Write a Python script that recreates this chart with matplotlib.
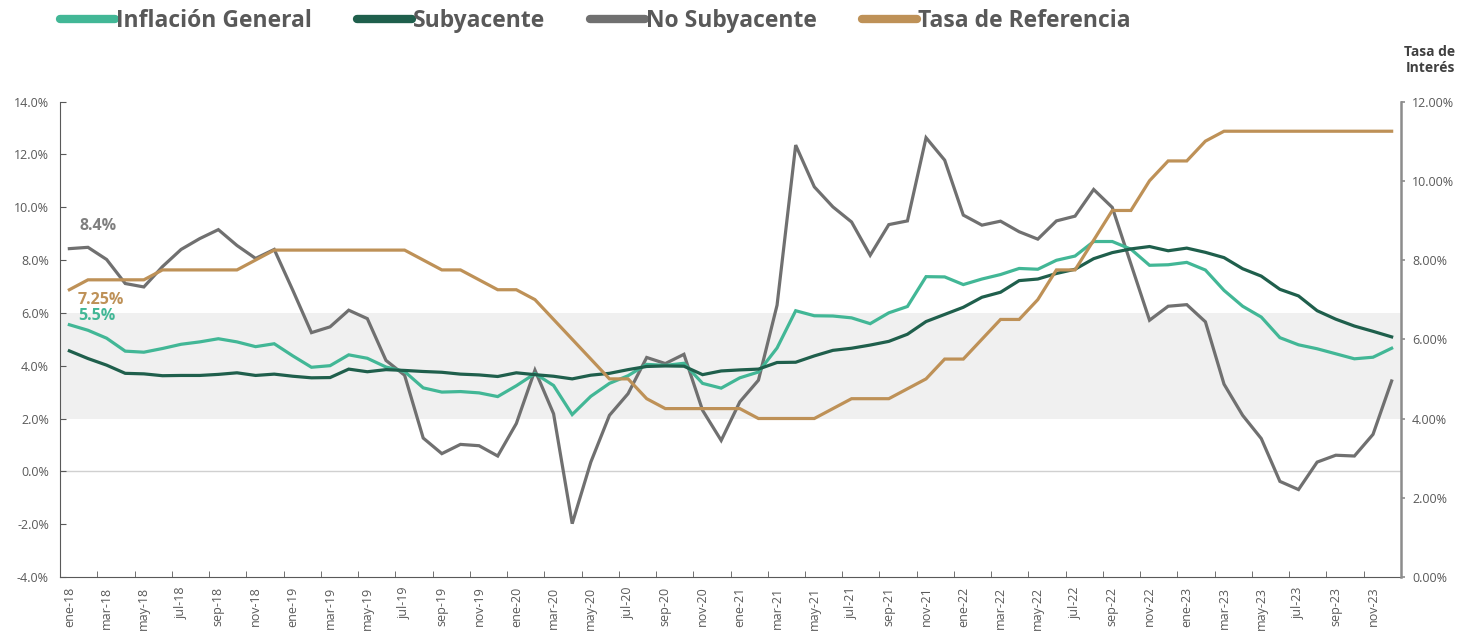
"""Inflación general, subyacente, no subyacente y tasa de referencia (2018-2023)."""

import matplotlib

matplotlib.use("Agg")
import matplotlib.pyplot as plt
from matplotlib.lines import Line2D
from matplotlib.ticker import FixedLocator, FuncFormatter

months = ["ene", "feb", "mar", "abr", "may", "jun", "jul", "ago", "sep", "oct", "nov", "dic"]
years = ["18", "19", "20", "21", "22", "23"]
labels = [f"{m}-{y}" for y in years for m in months]

general = [
    5.55, 5.34, 5.04, 4.55, 4.51, 4.65, 4.81, 4.90, 5.02, 4.90, 4.72, 4.83,
    4.37, 3.94, 4.00, 4.41, 4.28, 3.95, 3.78, 3.16, 3.00, 3.02, 2.97, 2.83,
    3.24, 3.70, 3.25, 2.15, 2.84, 3.33, 3.62, 4.05, 4.01, 4.09, 3.33, 3.15,
    3.54, 3.76, 4.67, 6.08, 5.89, 5.88, 5.81, 5.59, 6.00, 6.24, 7.37, 7.36,
    7.07, 7.28, 7.45, 7.68, 7.65, 7.99, 8.15, 8.70, 8.70, 8.41, 7.80, 7.82,
    7.91, 7.62, 6.85, 6.25, 5.84, 5.06, 4.79, 4.64, 4.45, 4.26, 4.32, 4.66,
]
core = [
    4.56, 4.27, 4.02, 3.71, 3.69, 3.62, 3.63, 3.63, 3.67, 3.73, 3.63, 3.68,
    3.60, 3.54, 3.55, 3.87, 3.77, 3.85, 3.82, 3.78, 3.75, 3.68, 3.65, 3.59,
    3.73, 3.66, 3.60, 3.50, 3.64, 3.71, 3.85, 3.97, 3.99, 3.98, 3.66, 3.80,
    3.84, 3.87, 4.12, 4.13, 4.37, 4.58, 4.66, 4.78, 4.92, 5.19, 5.67, 5.94,
    6.21, 6.59, 6.78, 7.22, 7.28, 7.49, 7.65, 8.05, 8.28, 8.42, 8.51, 8.35,
    8.45, 8.29, 8.09, 7.67, 7.39, 6.89, 6.64, 6.08, 5.76, 5.50, 5.30, 5.09,
]
non_core = [
    8.43, 8.48, 8.02, 7.11, 6.98, 7.75, 8.40, 8.81, 9.15, 8.55, 8.06, 8.40,
    6.85, 5.25, 5.47, 6.10, 5.78, 4.20, 3.64, 1.26, 0.67, 1.02, 0.97, 0.58,
    1.81, 3.83, 2.18, -1.98, 0.35, 2.12, 2.94, 4.31, 4.08, 4.43, 2.31, 1.17,
    2.63, 3.45, 6.29, 12.35, 10.77, 10.01, 9.44, 8.18, 9.34, 9.48, 12.63, 11.78,
    9.70, 9.32, 9.47, 9.07, 8.79, 9.48, 9.66, 10.67, 9.99, 7.85, 5.72, 6.25,
    6.31, 5.66, 3.30, 2.12, 1.24, -0.38, -0.69, 0.35, 0.61, 0.58, 1.40, 3.42,
]
policy_rate = [
    7.25, 7.50, 7.50, 7.50, 7.50, 7.75, 7.75, 7.75, 7.75, 7.75, 8.00, 8.25,
    8.25, 8.25, 8.25, 8.25, 8.25, 8.25, 8.25, 8.00, 7.75, 7.75, 7.50, 7.25,
    7.25, 7.00, 6.50, 6.00, 5.50, 5.00, 5.00, 4.50, 4.25, 4.25, 4.25, 4.25,
    4.25, 4.00, 4.00, 4.00, 4.00, 4.25, 4.50, 4.50, 4.50, 4.75, 5.00, 5.50,
    5.50, 6.00, 6.50, 6.50, 7.00, 7.75, 7.75, 8.50, 9.25, 9.25, 10.00, 10.50,
    10.50, 11.00, 11.25, 11.25, 11.25, 11.25, 11.25, 11.25, 11.25, 11.25, 11.25, 11.25,
]
target_band = (2.0, 6.0)

C_GENERAL = "#42B796"
C_CORE = "#1F5F4C"
C_NONCORE = "#707070"
C_RATE = "#BE9157"
C_TEXT = "#595959"

plt.rcParams["font.family"] = ["Open Sans", "DejaVu Sans"]

fig = plt.figure(figsize=(14.61, 6.38), dpi=100)
ax = fig.add_axes([0.0411, 0.0956, 0.9178, 0.7453])
ax2 = ax.twinx()

x = list(range(len(labels)))
n = len(labels)

ax.axhspan(*target_band, color="#F0F0F0", zorder=0, lw=0)
ax.axhline(0, color="#D0D0D0", lw=1, zorder=1)

lw = 2.3
ax.plot(x, non_core, color=C_NONCORE, lw=lw, zorder=3, solid_joinstyle="miter")
ax.plot(x, general, color=C_GENERAL, lw=lw, zorder=4, solid_joinstyle="miter")
ax.plot(x, core, color=C_CORE, lw=lw, zorder=5, solid_joinstyle="miter")
ax2.plot(x, policy_rate, color=C_RATE, lw=lw, solid_joinstyle="miter")

ax.set_xlim(-0.5, n - 0.5)
ax.set_ylim(-4, 14)
ax2.set_ylim(0, 12)

ax.set_yticks(range(-4, 15, 2))
ax.yaxis.set_major_formatter(FuncFormatter(lambda v, _: f"{v:.1f}%"))
ax2.set_yticks(range(0, 13, 2))
ax2.yaxis.set_major_formatter(FuncFormatter(lambda v, _: f"{v:.2f}%"))

ax.set_xticks(x[::2])
ax.set_xticklabels(labels[::2], rotation=90)
ax.xaxis.set_minor_locator(FixedLocator([i + 1.5 for i in range(0, n - 2, 2)]))
ax.tick_params(axis="x", which="major", length=0, pad=7, labelsize=9, labelcolor=C_TEXT)
ax.tick_params(axis="x", which="minor", direction="in", length=4, color=C_TEXT)
ax.tick_params(axis="y", direction="in", length=4, pad=8, labelsize=9, labelcolor=C_TEXT, color=C_TEXT)
ax2.tick_params(axis="y", direction="out", length=3, width=1.2, pad=5, labelsize=9,
                labelcolor=C_TEXT, color="#8C8C8C")

for spine in ["top", "right"]:
    ax.spines[spine].set_visible(False)
for spine in ["top", "left", "bottom"]:
    ax2.spines[spine].set_visible(False)
ax.spines["left"].set_color(C_TEXT)
ax.spines["bottom"].set_color(C_TEXT)
ax2.spines["right"].set_color("#8C8C8C")
ax2.spines["right"].set_linewidth(1.8)

# first-value annotations
ax.text(0.55, 9.28, f"{non_core[0]:.1f}%", color="#7F7F7F", fontsize=11.5, fontweight="bold",
        ha="left", va="center")
ax2.text(0.45, 7.0, f"{policy_rate[0]:.2f}%", color=C_RATE, fontsize=11.5, fontweight="bold",
         ha="left", va="center")
ax.text(0.45, 5.87, f"{general[0]:.1f}%", color=C_GENERAL, fontsize=11.5, fontweight="bold",
        ha="left", va="center")

fig.text(1430 / 1461, 1 - 60 / 638, "Tasa de\nInterés", ha="center", va="center",
         fontsize=10, fontweight="bold", color="#404040", linespacing=1.1)

handles = [
    Line2D([], [], color=c, lw=6, solid_capstyle="round")
    for c in (C_GENERAL, C_CORE, C_NONCORE, C_RATE)
]
fig.legend(
    handles,
    ["Inflación General", "Subyacente", "No Subyacente", "Tasa de Referencia"],
    loc="center left",
    bbox_to_anchor=(60 / 1461, 1 - 21 / 638),
    ncol=4,
    frameon=False,
    borderpad=0,
    borderaxespad=0,
    handlelength=2.4,
    handletextpad=0.05,
    columnspacing=1.95,
    prop={"size": 16.5, "weight": "bold"},
    labelcolor=C_TEXT,
)

fig.savefig("out.png", dpi=100)
plt.close(fig)
